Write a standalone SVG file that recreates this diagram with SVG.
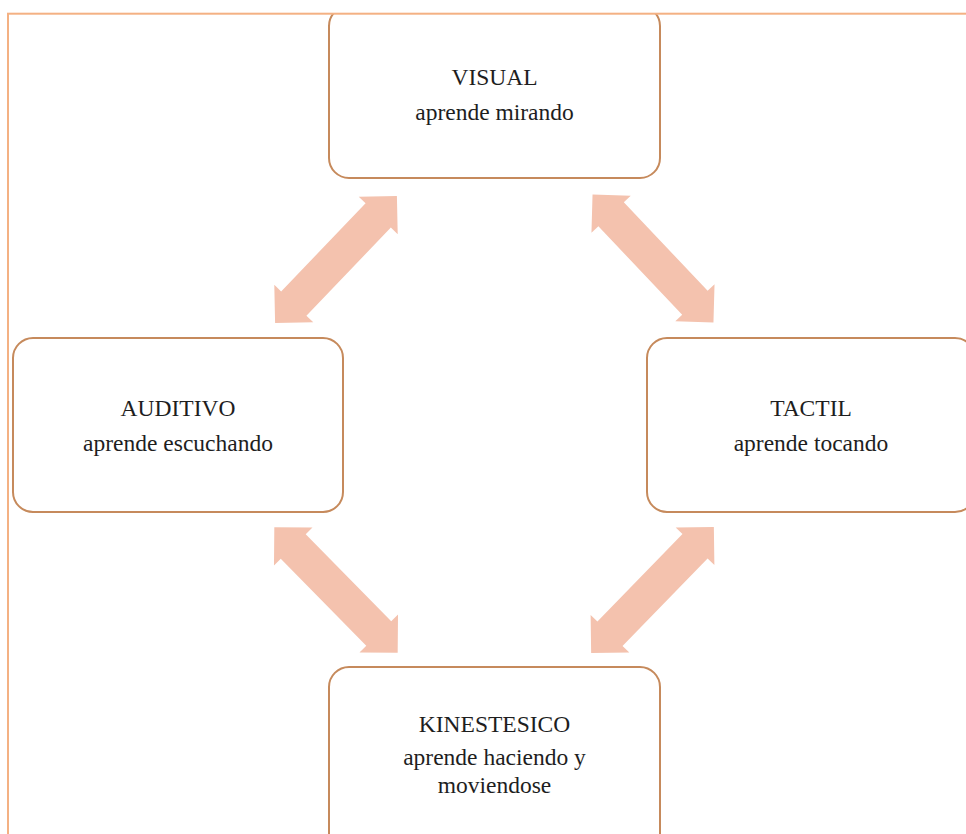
<svg xmlns="http://www.w3.org/2000/svg" width="966" height="834" viewBox="0 0 966 834">
<defs>
<style>
.box{fill:#ffffff;stroke:#C68A5C;stroke-width:2}
.lbl{font-family:"Liberation Serif","Times New Roman",serif;font-size:23.5px;fill:#1e1e1e;text-anchor:middle}
.arr{fill:#F4C2AE}
.frame{fill:none;stroke:#F4B183;stroke-width:2}
</style>
<path id="dbl" d="M-88,0 L-61,-27 L-61,-17.5 L61,-17.5 L61,-27 L88,0 L61,27 L61,17.5 L-61,17.5 L-61,27 Z"/>
<clipPath id="pane"><rect x="8" y="13.7" width="958" height="821"/></clipPath>
</defs>
<rect x="0" y="0" width="966" height="834" fill="#ffffff"/>
<g id="connectors" class="arr">
<use href="#dbl" transform="translate(336,259.5) rotate(-46.2)"/>
<use href="#dbl" transform="translate(653,258.5) rotate(46.6)"/>
<use href="#dbl" transform="translate(336,590) rotate(45.5)"/>
<use href="#dbl" transform="translate(652.5,590) rotate(-45.8)"/>
</g>
<g clip-path="url(#pane)">
<g id="visual">
<rect class="box" x="329" y="6" width="331" height="172" rx="20"/>
<text class="lbl" x="494.5" y="85">VISUAL</text>
<text class="lbl" x="494.5" y="120">aprende mirando</text>
</g>
<g id="auditivo">
<rect class="box" x="13" y="338" width="330" height="174" rx="20"/>
<text class="lbl" x="178" y="416">AUDITIVO</text>
<text class="lbl" x="178" y="451">aprende escuchando</text>
</g>
<g id="tactil">
<rect class="box" x="647" y="338" width="328" height="174" rx="20"/>
<text class="lbl" x="811" y="416">TACTIL</text>
<text class="lbl" x="811" y="451">aprende tocando</text>
</g>
<g id="kinestesico">
<rect class="box" x="329" y="667" width="331" height="190" rx="20"/>
<text class="lbl" x="494.5" y="732">KINESTESICO</text>
<text class="lbl" x="494.5" y="765">aprende haciendo y</text>
<text class="lbl" x="494.5" y="793">moviendose</text>
</g>
</g>
<rect class="frame" x="8" y="13.7" width="1000" height="900"/>
</svg>
